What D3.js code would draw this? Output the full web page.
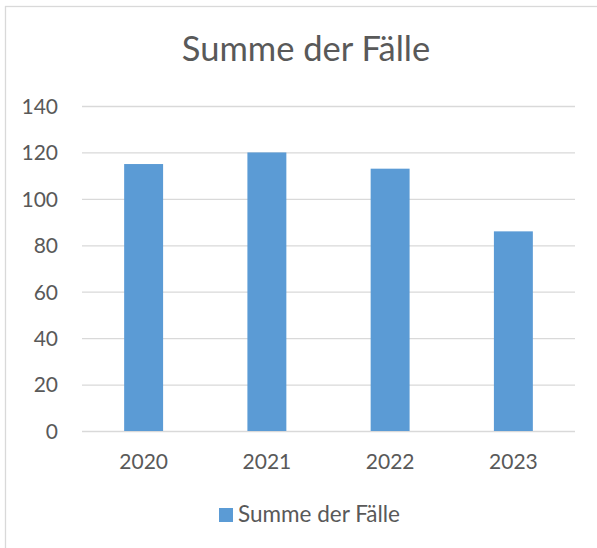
<!DOCTYPE html>
<html><head><meta charset="utf-8">
<script src="https://cdn.jsdelivr.net/npm/d3@7"></script>
<style>html,body{margin:0;padding:0;background:#fff;}svg{display:block;}</style>
</head><body>
<script>
const categories = ["2020", "2021", "2022", "2023"];
const values = [115, 120, 113, 86];
const yTicks = [0, 20, 40, 60, 80, 100, 120, 140];
const seriesName = "Summe der Fälle";
const titleText = "Summe der Fälle";

const W = 597, H = 548;
const font = "Lato, 'Open Sans', sans-serif";
const textColor = "#595959";
const svg = d3.select("body").append("svg").attr("width", W).attr("height", H);

// outer chart border
svg.append("rect").attr("x", 5.5).attr("y", 6.5).attr("width", W).attr("height", H)
  .attr("fill", "#fff").attr("stroke", "#d9d9d9").attr("stroke-width", 1.3);

const plot = {left: 82, right: 575, top: 106, bottom: 431};
const x = d3.scaleBand().domain(categories).range([plot.left, plot.right]).paddingInner(0.684).paddingOuter(0.342);
const y = d3.scaleLinear().domain([0, 140]).range([plot.bottom, plot.top]);

// title
svg.append("text").attr("x", 306).attr("y", 61).attr("text-anchor", "middle")
  .attr("font-family", font).attr("font-size", 34.5).attr("fill", textColor).text(titleText);

// gridlines
const yAxis = d3.axisLeft(y).tickValues(yTicks).tickSize(-(plot.right - plot.left)).tickPadding(24);
const gy = svg.append("g").attr("transform", `translate(${plot.left},0)`).call(yAxis);
gy.select(".domain").remove();
gy.selectAll(".tick line").attr("stroke", "#d9d9d9").attr("stroke-width", 1.3);
gy.selectAll(".tick text").attr("font-family", font).attr("font-size", 21).attr("fill", textColor).attr("dy", "0.35em");

// bars
svg.append("g").selectAll("rect").data(values).join("rect")
  .attr("x", (d, i) => x(categories[i]))
  .attr("width", x.bandwidth())
  .attr("y", d => y(d))
  .attr("height", d => y(0) - y(d))
  .attr("fill", "#5B9BD5");

// x axis labels
const xAxis = d3.axisBottom(x).tickSize(0).tickPadding(23);
const gx = svg.append("g").attr("transform", `translate(0,${plot.bottom})`).call(xAxis);
gx.select(".domain").remove();
gx.selectAll(".tick text").attr("font-family", font).attr("font-size", 21).attr("fill", textColor);

// legend
const lg = svg.append("g");
lg.append("rect").attr("x", 219).attr("y", 508).attr("width", 14).attr("height", 14).attr("fill", "#5B9BD5");
lg.append("text").attr("x", 238).attr("y", 522).attr("font-family", font).attr("font-size", 22.5)
  .attr("fill", textColor).text(seriesName);
</script>
</body></html>
